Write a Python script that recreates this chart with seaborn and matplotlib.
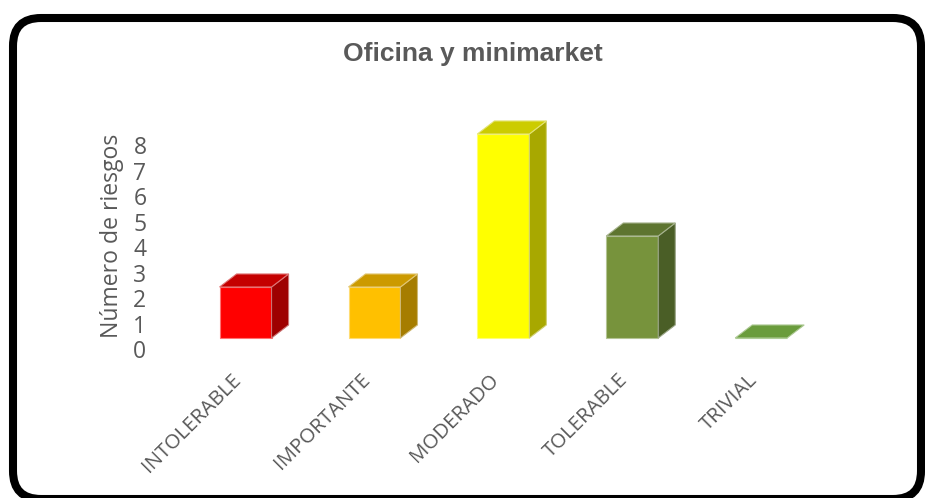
import matplotlib
matplotlib.use("Agg")
import matplotlib.pyplot as plt
import matplotlib.colors as mcolors
import numpy as np
import pandas as pd
import seaborn as sns
from matplotlib.patches import Polygon, FancyBboxPatch
from matplotlib.transforms import IdentityTransform

# Risk levels and number of risks found in each one
categories = ["INTOLERABLE", "IMPORTANTE", "MODERADO", "TOLERABLE", "TRIVIAL"]
risk_counts = [2, 2, 8, 4, 0]
y_ticks = [0, 1, 2, 3, 4, 5, 6, 7, 8]

# Shading for the three visible faces of each 3-D column
front_colors = ["#FF0000", "#FFC000", "#FFFF00", "#77933C", "#70AD47"]
top_colors = ["#C40000", "#CC9A00", "#CCCC00", "#5E7530", "#6A9C3C"]
side_colors = ["#9E0000", "#A67D00", "#A8A800", "#4A5E26", "#55802E"]

chart_title = "Oficina y minimarket"
y_title = "Número de riesgos"

TEXT = "#595959"

sns.set_style("white")
plt.rcParams["font.family"] = ["Open Sans", "DejaVu Sans"]


def lighter(color, amount=0.45):
    rgb = np.array(mcolors.to_rgb(color))
    return tuple(rgb + (1 - rgb) * amount)


fig = plt.figure(figsize=(9.25, 4.98), dpi=100)
ax = fig.add_axes([0.1958, 0.2906, 0.6968, 0.4711])

df = pd.DataFrame({"nivel": categories, "riesgos": risk_counts})
sns.barplot(
    data=df, x="nivel", y="riesgos", hue="nivel", palette=front_colors,
    legend=False, width=0.403, saturation=1, ax=ax, linewidth=0,
)
ax.set_xlim(-0.5, 4.5)
ax.set_ylim(-0.6, 8.6)

# Depth of the columns (category units, value units)
DX, DY = 0.132, 0.51
bars = sorted(ax.patches, key=lambda p: p.get_x())
for bar, front_c, top_c, side_c in zip(bars, front_colors, top_colors, side_colors):
    x0 = bar.get_x()
    w = bar.get_width()
    h = bar.get_height()
    x1 = x0 + w
    bar.set_edgecolor(lighter(front_c))
    bar.set_linewidth(0.8)
    if h > 0:
        side = Polygon([(x1, 0), (x1 + DX, DY), (x1 + DX, h + DY), (x1, h)],
                       closed=True, facecolor=side_c, edgecolor=lighter(side_c),
                       linewidth=0.8, clip_on=False, zorder=3)
        ax.add_patch(side)
    top = Polygon([(x0, h), (x1, h), (x1 + DX, h + DY), (x0 + DX, h + DY)],
                  closed=True, facecolor=top_c, edgecolor=lighter(top_c),
                  linewidth=0.8, clip_on=False, zorder=3)
    ax.add_patch(top)

for s in ax.spines.values():
    s.set_visible(False)

# Category labels
ax.set_xticks(range(len(categories)))
ax.set_xticklabels(categories, rotation=45, ha="right", fontsize=14.7)
ax.tick_params(axis="x", length=0, pad=12, labelcolor=TEXT)
ax.set_xlabel("")
ax.set_ylabel("")
ax.set_yticks([])

# Value axis, drawn slightly below the column floor
val_ax = ax.secondary_yaxis("left", functions=(lambda y: y + 0.45, lambda y: y - 0.45))
val_ax.set_yticks(y_ticks)
val_ax.tick_params(length=0, pad=25, labelsize=16.5, labelcolor=TEXT)
for s in val_ax.spines.values():
    s.set_visible(False)
val_ax.set_ylabel(y_title, fontsize=16.6, color=TEXT, labelpad=7)

fig.text(0.511, 0.8916, chart_title, ha="center", va="center", fontsize=19,
         fontweight="bold", color=TEXT, family=["Liberation Sans", "DejaVu Sans"])

# Rounded outer frame
frame = FancyBboxPatch((13, -1), 908, 481, boxstyle="round,pad=0,rounding_size=28",
                       transform=IdentityTransform(), facecolor="none",
                       edgecolor="black", linewidth=5.8, clip_on=False)
fig.add_artist(frame)

fig.savefig("out.png", dpi=100)
